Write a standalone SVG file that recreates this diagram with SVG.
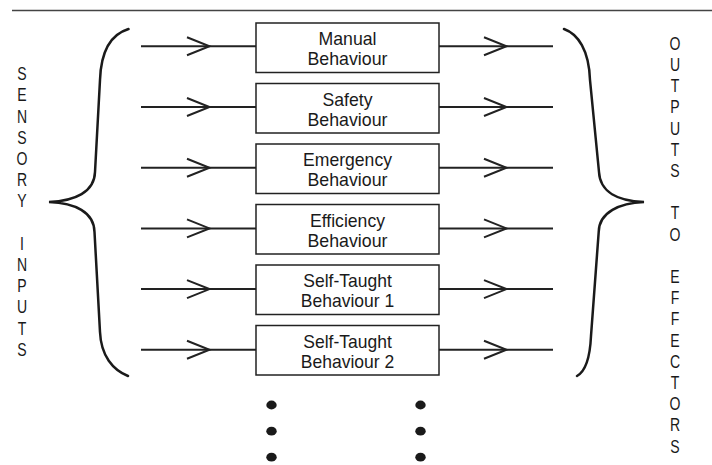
<svg xmlns="http://www.w3.org/2000/svg" width="712" height="465" viewBox="0 0 712 465">
<style>
  .box rect { fill: #fff; stroke: #222; stroke-width: 1.5; }
  .box text { font-family: "Liberation Sans", Arial, sans-serif; font-size: 19px; fill: #1a1a1a; text-anchor: middle; }
  .conn line { stroke: #222; stroke-width: 2; }
  .conn polyline { fill: none; stroke: #222; stroke-width: 2; stroke-linejoin: miter; }
  .brace { fill: none; stroke: #1a1a1a; stroke-width: 2.5; stroke-linecap: round; }
  .vert text { font-family: "Liberation Sans", Arial, sans-serif; font-size: 19px; fill: #1a1a1a; text-anchor: middle; }
  .dot { fill: #1a1a1a; }
</style>
<rect width="712" height="465" fill="#fff"/>
<line x1="12" y1="10.5" x2="712" y2="10.5" stroke="#444" stroke-width="1.5"/>

<g id="connectors" class="conn">
  <line x1="141" y1="46.3" x2="256" y2="46.3"/><polyline points="187,37.3 209.5,46.3 187,55.3"/>
  <line x1="439" y1="46.3" x2="553" y2="46.3"/><polyline points="484,37.3 506.5,46.3 484,55.3"/>
  <line x1="141" y1="107" x2="256" y2="107"/><polyline points="187,98 209.5,107 187,116"/>
  <line x1="439" y1="107" x2="553" y2="107"/><polyline points="484,98 506.5,107 484,116"/>
  <line x1="141" y1="167.7" x2="256" y2="167.7"/><polyline points="187,158.7 209.5,167.7 187,176.7"/>
  <line x1="439" y1="167.7" x2="553" y2="167.7"/><polyline points="484,158.7 506.5,167.7 484,176.7"/>
  <line x1="141" y1="228.4" x2="256" y2="228.4"/><polyline points="187,219.4 209.5,228.4 187,237.4"/>
  <line x1="439" y1="228.4" x2="553" y2="228.4"/><polyline points="484,219.4 506.5,228.4 484,237.4"/>
  <line x1="141" y1="289.1" x2="256" y2="289.1"/><polyline points="187,280.1 209.5,289.1 187,298.1"/>
  <line x1="439" y1="289.1" x2="553" y2="289.1"/><polyline points="484,280.1 506.5,289.1 484,298.1"/>
  <line x1="141" y1="349.8" x2="256" y2="349.8"/><polyline points="187,340.8 209.5,349.8 187,358.8"/>
  <line x1="439" y1="349.8" x2="553" y2="349.8"/><polyline points="484,340.8 506.5,349.8 484,358.8"/>
</g>

<g id="node-manual" class="box">
  <rect x="256" y="23" width="183" height="49.5"/>
  <text x="347.5" y="45.3" textLength="58" lengthAdjust="spacingAndGlyphs">Manual</text>
  <text x="347.5" y="65.3" textLength="80" lengthAdjust="spacingAndGlyphs">Behaviour</text>
</g>
<g id="node-safety" class="box">
  <rect x="256" y="83.5" width="183" height="49.5"/>
  <text x="347.5" y="105.8" textLength="50" lengthAdjust="spacingAndGlyphs">Safety</text>
  <text x="347.5" y="125.8" textLength="80" lengthAdjust="spacingAndGlyphs">Behaviour</text>
</g>
<g id="node-emergency" class="box">
  <rect x="256" y="144" width="183" height="49.5"/>
  <text x="347.5" y="166.3" textLength="89" lengthAdjust="spacingAndGlyphs">Emergency</text>
  <text x="347.5" y="186.3" textLength="80" lengthAdjust="spacingAndGlyphs">Behaviour</text>
</g>
<g id="node-efficiency" class="box">
  <rect x="256" y="204.5" width="183" height="49.5"/>
  <text x="347.5" y="226.8" textLength="75" lengthAdjust="spacingAndGlyphs">Efficiency</text>
  <text x="347.5" y="246.8" textLength="80" lengthAdjust="spacingAndGlyphs">Behaviour</text>
</g>
<g id="node-selftaught1" class="box">
  <rect x="256" y="265" width="183" height="49.5"/>
  <text x="347.5" y="287.3" textLength="88.5" lengthAdjust="spacingAndGlyphs">Self-Taught</text>
  <text x="347.5" y="307.3" textLength="93.5" lengthAdjust="spacingAndGlyphs">Behaviour 1</text>
</g>
<g id="node-selftaught2" class="box">
  <rect x="256" y="325.5" width="183" height="49.5"/>
  <text x="347.5" y="347.8" textLength="88.5" lengthAdjust="spacingAndGlyphs">Self-Taught</text>
  <text x="347.5" y="367.8" textLength="93.5" lengthAdjust="spacingAndGlyphs">Behaviour 2</text>
</g>

<g id="brace-left">
  <path class="brace" d="M128.5,29 C112,34 101,50 100,80 L95,172 C94.5,192 75,201 49,202 C75,203 94,212 94.5,232 L100,332 C101,356 113,370 128,376"/>
</g>
<g id="brace-right">
  <path class="brace" d="M564,29 C578,34 589,50 590,80 L599,172 C600,192 618,201 644,202 C620,203 599,212 598.7,232 L591,336 C590,358 586,371 577,376"/>
</g>

<g id="label-sensory-inputs" class="vert" transform="translate(22,0) scale(0.74,1)">
  <text x="0" y="80.3">S</text>
  <text x="0" y="101.5">E</text>
  <text x="0" y="122.7">N</text>
  <text x="0" y="143.9">S</text>
  <text x="0" y="165.1">O</text>
  <text x="0" y="186.3">R</text>
  <text x="0" y="207.5">Y</text>
  <text x="0" y="249.9">I</text>
  <text x="0" y="271.1">N</text>
  <text x="0" y="292.3">P</text>
  <text x="0" y="313.5">U</text>
  <text x="0" y="334.7">T</text>
  <text x="0" y="355.9">S</text>
</g>

<g id="label-outputs" class="vert" transform="translate(675,0) scale(0.74,1)">
  <text x="0" y="49.8">O</text>
  <text x="0" y="71">U</text>
  <text x="0" y="92.2">T</text>
  <text x="0" y="113.4">P</text>
  <text x="0" y="134.6">U</text>
  <text x="0" y="155.8">T</text>
  <text x="0" y="177">S</text>
  <text x="0" y="219.4">T</text>
  <text x="0" y="240.6">O</text>
  <text x="0" y="283">E</text>
  <text x="0" y="304.2">F</text>
  <text x="0" y="325.4">F</text>
  <text x="0" y="346.6">E</text>
  <text x="0" y="367.8">C</text>
  <text x="0" y="389">T</text>
  <text x="0" y="410.2">O</text>
  <text x="0" y="431.4">R</text>
  <text x="0" y="452.6">S</text>
</g>

<g id="ellipsis">
  <ellipse class="dot" cx="271.5" cy="405" rx="5.2" ry="4.4"/>
  <ellipse class="dot" cx="271.5" cy="431.2" rx="5.2" ry="4.4"/>
  <ellipse class="dot" cx="271.5" cy="457.2" rx="5.2" ry="4.4"/>
  <ellipse class="dot" cx="420.5" cy="405" rx="5.2" ry="4.4"/>
  <ellipse class="dot" cx="420.5" cy="431.2" rx="5.2" ry="4.4"/>
  <ellipse class="dot" cx="420.5" cy="457.2" rx="5.2" ry="4.4"/>
</g>
</svg>
